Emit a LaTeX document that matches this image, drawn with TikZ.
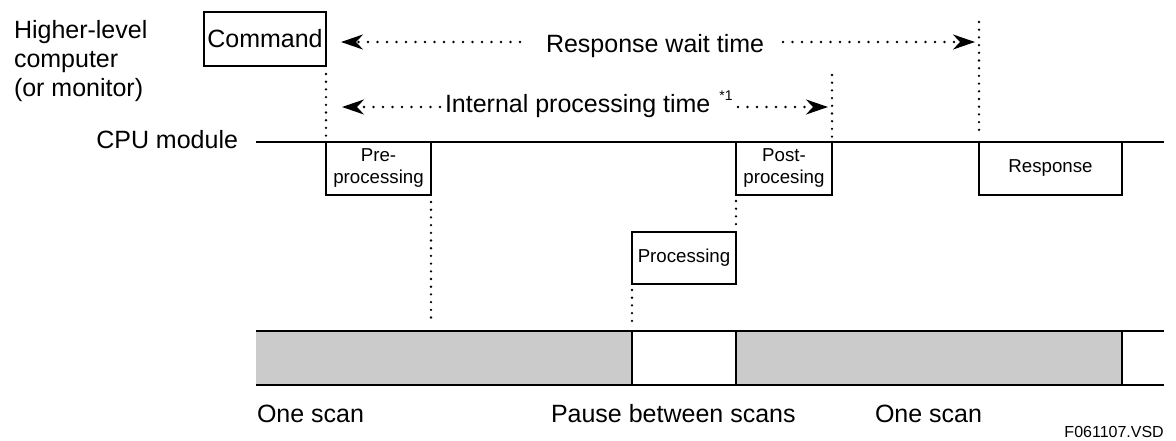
\documentclass[tikz,border=0pt]{standalone}
\usepackage{fontspec}
\setmainfont{Liberation Sans}
\usetikzlibrary{arrows.meta}
\definecolor{scangray}{HTML}{CBCBCB}
\begin{document}
\begin{tikzpicture}[x=1pt,y=-1pt,
  lbl/.style={font=\fontsize{25}{29}\selectfont, inner sep=0pt, outer sep=0pt},
  sml/.style={font=\fontsize{18.7}{22}\selectfont},
  box/.style={draw, line width=2pt, inner sep=0pt, outer sep=0pt, anchor=north west, align=center, fill=white},
  vdots/.style={line width=2.6pt, line cap=round, dash pattern=on 0pt off 7.7pt},
  harrow/.style={line width=2.6pt, line cap=round, dash pattern=on 0pt off 9.5pt,
                 -{Stealth[length=22pt,width=15pt,inset=7pt,line cap=butt]}},
  rule/.style={line width=2.2pt},
  barline/.style={line width=2.6pt}
]
\useasboundingbox (0,0) rectangle (1176,440);

% labels on the left
\node[lbl, anchor=base west, align=left] (host) at (14,96) {Higher-level\\computer\\(or monitor)};
\node[lbl, anchor=base east] (cpu) at (238,148) {CPU module};

% CPU line
\coordinate (lineL) at (256,142);
\coordinate (lineR) at (1164,142);
\draw[rule] (lineL) -- (lineR);

% boxes
\node[box, lbl, minimum width=122pt, minimum height=54pt] (cmd) at (204,12) {Command};
\node[box, sml, minimum width=105pt, minimum height=53pt] (pre) at (326,142) {Pre-\\processing};
\node[box, sml, minimum width=96pt, minimum height=53pt] (post) at (736,142) {Post-\\procesing};
\node[box, sml, minimum width=143pt, minimum height=53pt] (resp) at (979,142) {Response};
\node[box, sml, minimum width=104pt, minimum height=52pt] (proc) at (632,232) {Processing};

% scan bar
\fill[scangray] (256,331) rectangle (632,385);
\fill[scangray] (736,331) rectangle (1122,385);
\draw[barline] (256,331) -- (1164,331);
\draw[barline] (256,385) -- (1164,385);
\draw[rule] (632,331) -- (632,385);
\draw[rule] (736,331) -- (736,385);
\draw[rule] (1122,331) -- (1122,385);

% time labels
\node[lbl, anchor=base west] (rwt) at (546,52) {Response wait time};
\node[lbl, anchor=base west] (ipt) at (445,112) {Internal processing time\hspace{9pt}\raisebox{12pt}{\fontsize{14}{14}\selectfont *1}};

% arrows
\coordinate (rwL) at (341,42);
\coordinate (rwLs) at (520,42);
\coordinate (rwRs) at (783,42);
\coordinate (rwR) at (975,42);
\draw[harrow] (rwLs) -- (rwL);
\draw[harrow] (rwRs) -- (rwR);
\coordinate (ipL) at (342,107);
\coordinate (ipLs) at (440,107);
\coordinate (ipRs) at (738,107);
\coordinate (ipR) at (828,107);
\draw[harrow] (ipLs) -- (ipL);
\draw[harrow] (ipRs) -- (ipR);

% dotted guides
\coordinate (rtop) at (979,22);
\coordinate (ptop) at (832,75);
\coordinate (barA) at (431,331);
\coordinate (barB) at (632,331);
\draw[vdots, shorten <=8pt, shorten >=6pt] (cmd.south east) -- (pre.north west);
\draw[vdots, shorten >=5pt] (rtop) -- (resp.north west);
\draw[vdots, shorten >=5pt] (ptop) -- (post.north east);
\draw[vdots, shorten <=7pt, shorten >=7pt] (pre.south east) -- (barA);
\draw[vdots, shorten <=6pt, shorten >=5pt] (post.south west) -- (proc.north east);
\draw[vdots, shorten <=6pt, shorten >=8pt] (proc.south west) -- (barB);

% bottom labels
\node[lbl, anchor=base west] (scanA) at (257,422) {One scan};
\node[lbl, anchor=base west] (pause) at (551,422) {Pause between scans};
\node[lbl, anchor=base west] (scanB) at (875,422) {One scan};
\node[font=\fontsize{16}{16}\selectfont, inner sep=0pt, anchor=base east] (fig) at (1164,437) {F061107.VSD};
\end{tikzpicture}
\end{document}
